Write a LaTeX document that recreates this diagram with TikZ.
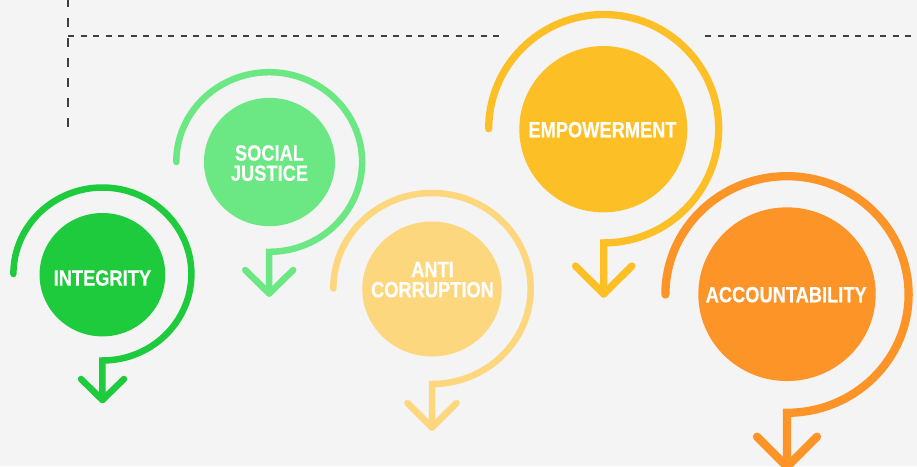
\documentclass[tikz,border=0pt]{standalone}
\usepackage{fontspec}
\setmainfont{Liberation Sans}[FakeStretch=0.83, BoldFeatures={FakeBold=0.4}]
\usetikzlibrary{shapes.geometric}
\definecolor{bg}{RGB}{244,244,244}
\definecolor{dashc}{RGB}{64,64,64}
\definecolor{colA}{RGB}{30,203,60}
\definecolor{colB}{RGB}{107,231,131}
\definecolor{colC}{RGB}{253,215,125}
\definecolor{colD}{RGB}{252,191,38}
\definecolor{colE}{RGB}{252,148,40}
\begin{document}
\begin{tikzpicture}[x=1pt,y=-1pt,
  disc/.style={ellipse, draw=none, inner sep=0pt, outer sep=0pt},
  lbl/.style={text=white, font=\fontsize{22}{20.2}\selectfont\bfseries, align=center, inner sep=0pt, anchor=north},
  ring/.style={line cap=round, line join=miter},
  chev/.style={line cap=round, line join=round},
  guide/.style={dashc}]
\useasboundingbox (0,0) rectangle (917,466);
\fill[bg] (0,0) rectangle (917,466);

% dashed guide lines
\coordinate (v1) at (68,-1.6);
\coordinate (v2) at (68,127);
\coordinate (h1) at (68,36);
\coordinate (h2) at (500,36);
\coordinate (h3) at (705,36);
\coordinate (h4) at (917,36);
\draw[guide, line width=1.7pt, dash pattern=on 8.3pt off 11.7pt] (v1) -- (v2);
\draw[guide, line width=1.8pt, dash pattern=on 6pt off 6.5pt] (h1) -- (h2);
\draw[guide, line width=1.8pt, dash pattern=on 6pt off 6.5pt] (h3) -- (h4);

% INTEGRITY
\node[disc, fill=colA, minimum width=125.7pt, minimum height=123.4pt] (cA) at (102.4,274.7) {};
\node[lbl] (tA) at (102.4,270) {INTEGRITY};
\coordinate (sA) at (13.4,274);
\coordinate (pA) at (102.4,400);
\coordinate (lA) at (81,379);
\coordinate (rA) at (124,379);
\draw[ring, colA, line width=6.5pt] (sA) arc[start angle=180, end angle=450, x radius=89, y radius=86.5] -- (pA);
\draw[chev, colA, line width=6.5pt] (lA) -- (pA) -- (rA);

% SOCIAL JUSTICE
\node[disc, fill=colB, minimum width=131pt, minimum height=128.3pt] (cB) at (269.5,162) {};
\node[lbl] (tB) at (269.5,145) {SOCIAL\\JUSTICE};
\coordinate (sB) at (176.3,162);
\coordinate (pB) at (269.2,293.5);
\coordinate (lB) at (245.2,270);
\coordinate (rB) at (293.2,270);
\draw[ring, colB, line width=6.5pt] (sB) arc[start angle=180, end angle=450, x radius=92.9, y radius=89.8] -- (pB);
\draw[chev, colB, line width=6.5pt] (lB) -- (pB) -- (rB);

% ANTI CORRUPTION
\node[disc, fill=colC, minimum width=139.4pt, minimum height=135pt] (cC) at (432,289) {};
\node[lbl] (tC) at (432.5,261.7) {ANTI\\CORRUPTION};
\coordinate (sC) at (333.3,288.5);
\coordinate (pC) at (432,427.5);
\coordinate (lC) at (407.5,403);
\coordinate (rC) at (456.5,403);
\draw[ring, colC, line width=6.5pt] (sC) arc[start angle=180, end angle=450, x radius=98.7, y radius=95.5] -- (pC);
\draw[chev, colC, line width=6.5pt] (lC) -- (pC) -- (rC);

% EMPOWERMENT
\node[disc, fill=colD, minimum width=168pt, minimum height=166.3pt] (cD) at (603.3,129.2) {};
\node[lbl] (tD) at (602.5,121.7) {EMPOWERMENT};
\coordinate (sD) at (488.7,128.7);
\coordinate (pD) at (603.7,294);
\coordinate (lD) at (575.5,266);
\coordinate (rD) at (631.9,266);
\draw[ring, colD, line width=7.3pt] (sD) arc[start angle=180, end angle=450, x radius=115, y radius=114.2] -- (pD);
\draw[chev, colD, line width=7.3pt] (lD) -- (pD) -- (rD);

% ACCOUNTABILITY
\node[disc, fill=colE, minimum width=177.4pt, minimum height=173.7pt] (cE) at (787,294.2) {};
\node[lbl] (tE) at (786.2,286.7) {ACCOUNTABILITY};
\coordinate (sE) at (665.4,294.5);
\coordinate (pE) at (787,466.7);
\coordinate (lE) at (757,436.7);
\coordinate (rE) at (817,436.7);
\draw[ring, colE, line width=8.3pt] (sE) arc[start angle=180, end angle=450, x radius=121.6, y radius=118.3] -- (pE);
\draw[chev, colE, line width=8.3pt] (lE) -- (pE) -- (rE);
\end{tikzpicture}
\end{document}
